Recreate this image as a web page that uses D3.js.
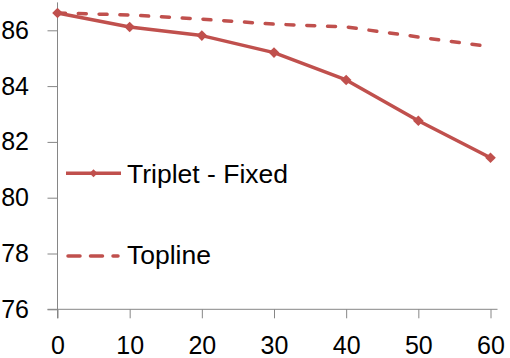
<!DOCTYPE html>
<html>
<head>
<meta charset="utf-8">
<script src="https://cdn.jsdelivr.net/npm/d3@7"></script>
<style>
	body { margin: 0; background: #fff; }
	svg text { font-family: "Liberation Sans", Arial, sans-serif; fill: #000; }
</style>
</head>
<body>
<div class="content"></div>
<script>
	var xValues = [0, 10, 20, 30, 40, 50, 60];
	var tripletFixed = [86.62, 86.12, 85.81, 85.2, 84.22, 82.76, 81.43];
	var topline = [86.62, 86.55, 86.4, 86.22, 86.12, 85.76, 85.41];
	var xTicks = [0, 10, 20, 30, 40, 50, 60];
	var yTicks = [76, 78, 80, 82, 84, 86];
	var seriesNames = ["Triplet - Fixed", "Topline"];

	var red = "#C0504D";
	var axisGrey = "#868686";

	var svg = d3.select(".content")
		.append("svg")
		.attr("width", 510)
		.attr("height", 358);

	var x = d3.scaleLinear().domain([0, 60]).range([57.5, 490.5]);
	var y = d3.scaleLinear().domain([76, 87]).range([309.3, 2.4]);

	// axes
	var xAxis = svg.append("g")
		.attr("transform", "translate(0," + y(76) + ")")
		.call(d3.axisBottom(x).tickValues(xTicks).tickSize(9).tickSizeOuter(0).tickPadding(17.5));
	var yAxis = svg.append("g")
		.attr("transform", "translate(" + x(0) + ",0)")
		.call(d3.axisLeft(y).tickValues(yTicks).tickSize(10).tickSizeOuter(0).tickPadding(18.5));

	[xAxis, yAxis].forEach(function(a) {
		a.select(".domain").remove();
		a.selectAll("line").attr("stroke", axisGrey).attr("stroke-width", 1);
		a.selectAll("text").style("font-size", "25px").attr("fill", "#000");
	});

	// axis lines drawn by hand so they run past the corner like the original
	svg.append("line")
		.attr("x1", x(0) - 10).attr("x2", x(60) + 7)
		.attr("y1", y(76)).attr("y2", y(76))
		.attr("stroke", axisGrey);
	svg.append("line")
		.attr("x1", x(0)).attr("x2", x(0))
		.attr("y1", y(87)).attr("y2", y(76) + 9)
		.attr("stroke", axisGrey);

	var line = d3.line()
		.x(function(d, i) { return x(xValues[i]); })
		.y(function(d) { return y(d); });

	svg.append("path")
		.datum(topline)
		.attr("d", line)
		.attr("fill", "none")
		.attr("stroke", red)
		.attr("stroke-width", 3.5)
		.attr("stroke-linecap", "round")
		.attr("stroke-dasharray", "8,12.8");

	svg.append("path")
		.datum(tripletFixed)
		.attr("d", line)
		.attr("fill", "none")
		.attr("stroke", red)
		.attr("stroke-width", 3.5)
		.attr("stroke-linejoin", "round");

	var diamond = d3.symbol().type(d3.symbolDiamond2).size(72);
	svg.selectAll("path.marker")
		.data(tripletFixed)
		.enter()
		.append("path")
		.attr("class", "marker")
		.attr("d", diamond)
		.attr("transform", function(d, i) { return "translate(" + x(xValues[i]) + "," + y(d) + ")"; })
		.attr("fill", red);

	// legend
	var legend = svg.append("g");
	legend.append("line")
		.attr("x1", 66).attr("x2", 121)
		.attr("y1", 173.3).attr("y2", 173.3)
		.attr("stroke", red).attr("stroke-width", 3.5);
	legend.append("path")
		.attr("d", d3.symbol().type(d3.symbolDiamond2).size(40))
		.attr("transform", "translate(93.5,173.3)")
		.attr("fill", red);
	legend.append("text")
		.text(seriesNames[0])
		.attr("x", 127)
		.attr("y", 182.5)
		.style("font-size", "26.5px");

	legend.append("line")
		.attr("x1", 68).attr("x2", 118)
		.attr("y1", 256).attr("y2", 256)
		.attr("stroke", red).attr("stroke-width", 3.5)
		.attr("stroke-linecap", "round")
		.attr("stroke-dasharray", "12,10.5");
	legend.append("text")
		.text(seriesNames[1])
		.attr("x", 127)
		.attr("y", 264)
		.style("font-size", "26.5px");
</script>
</body>
</html>
